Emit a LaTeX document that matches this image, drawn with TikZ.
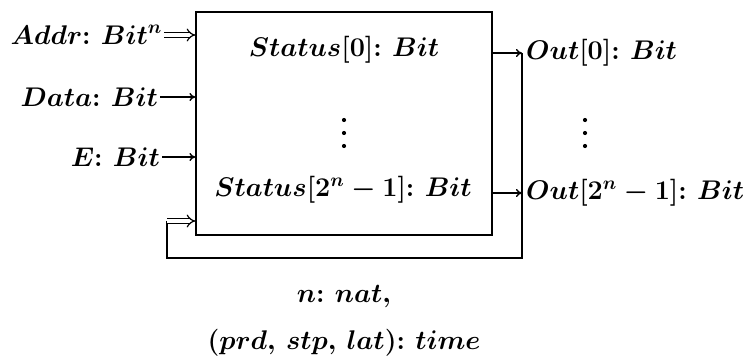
\RequirePackage{fix-cm}
\documentclass[tikz,border=0pt]{standalone}
\usepackage{amsmath}
\usetikzlibrary{arrows.meta}
\newcommand\cln{\mathpunct{:}\,}
\newcommand\bs[1]{\boldsymbol{#1}}
\tikzset{
  lbl/.style={font=\fontsize{27}{32}\selectfont\boldmath, inner sep=2pt},
  inarrow/.style={line width=1.4pt, -{To[length=6pt,width=8pt]}},
  dblarrow/.style={line width=1.2pt, double distance=3.2pt, -{Implies[length=7pt,width=13pt]}},
  fb/.style={line width=2.2pt},
  boxst/.style={draw, line width=1.3pt, minimum width=296pt, minimum height=223pt, inner sep=0pt},
  vdot/.style={fill, circle, inner sep=0pt, minimum size=4.2pt}
}
\begin{document}
\begin{tikzpicture}[x=1pt,y=-1pt]
\useasboundingbox (0,0) rectangle (753,359);
\node[boxst] (box) at (344,123.5) {};
% inputs
\node[lbl, anchor=east] (addr) at (164,35) {$\bs{Addr}\cln\bs{Bit}^{\bs{n}}$};
\node[lbl, anchor=east] (data) at (160,97) {$\bs{Data}\cln\bs{Bit}$};
\node[lbl, anchor=east] (e) at (162,157) {$\bs{E}\cln\bs{Bit}$};
\draw[dblarrow] (addr.east) -- (addr.east -| box.west);
\draw[inarrow] (data.east) -- (data.east -| box.west);
\draw[inarrow] (e.east) -- (e.east -| box.west);
% box contents
\node[lbl] (s0) at (344,50) {$\bs{Status}[0]\cln\bs{Bit}$};
\node[lbl] (sn) at (343,190) {$\bs{Status}[2^{\bs{n}}-1]\cln\bs{Bit}$};
\node[vdot] (d1) at (344,120) {};
\node[vdot] (d2) at (344,133) {};
\node[vdot] (d3) at (344,146) {};
% outputs
\node[lbl, anchor=west, inner xsep=4pt] (o0) at (522,53) {$\bs{Out}[0]\cln\bs{Bit}$};
\node[lbl, anchor=west, inner xsep=4pt] (on) at (522,193) {$\bs{Out}[2^{\bs{n}}-1]\cln\bs{Bit}$};
\node[vdot] (e1) at (585,120) {};
\node[vdot] (e2) at (585,133) {};
\node[vdot] (e3) at (585,146) {};
\draw[inarrow] (o0.west -| box.east) -- (o0.west);
\draw[inarrow] (on.west -| box.east) -- (on.west);
% feedback
\coordinate (fbr) at (522,258);
\coordinate (fbl) at (167,258);
\coordinate (fbt) at (167,221);
\draw[fb] (o0.west) -- (fbr) -- (fbl) -- (fbt);
\draw[dblarrow] (fbt) -- (fbt -| box.west);
% parameters
\node[lbl] (p1) at (344,297) {$\bs{n}\cln\bs{nat},$};
\node[lbl] (p2) at (344,343) {$(\bs{prd},\,\bs{stp},\,\bs{lat})\cln\bs{time}$};
\end{tikzpicture}
\end{document}
